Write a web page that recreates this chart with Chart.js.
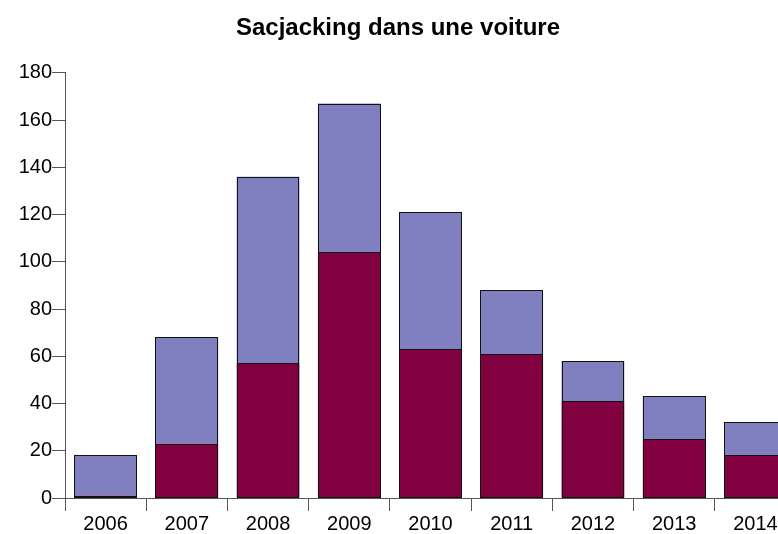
<!DOCTYPE html>
<html>
<head>
<meta charset="utf-8">
<script src="https://cdn.jsdelivr.net/npm/chart.js@4/dist/chart.umd.min.js"></script>
<style>
html,body{margin:0;padding:0;background:#fff;overflow:hidden;width:778px;height:534px;}
canvas{display:block;}
</style>
</head>
<body>
<canvas id="c" width="796" height="534" style="width:796px;height:534px"></canvas>
<script>
const categories = ['2006','2007','2008','2009','2010','2011','2012','2013','2014'];
const seriesLower = [1, 23, 57, 104, 63, 61, 41, 25, 18];
const seriesUpper = [17, 45, 79, 63, 58, 27, 17, 18, 14];
const yTicks = [0, 20, 40, 60, 80, 100, 120, 140, 160, 180];

const FONT = "'Liberation Sans', Arial, sans-serif";
const axisColor = '#555';

// crisp 1px outlines around every bar, taken from the library's bar elements
const crispOutline = {
  id: 'crispOutline',
  afterDatasetsDraw(chart) {
    const ctx = chart.ctx;
    ctx.save();
    ctx.strokeStyle = '#111';
    ctx.lineWidth = 1;
    chart.data.datasets.forEach((ds, i) => {
      const meta = chart.getDatasetMeta(i);
      meta.data.forEach(el => {
        const p = el.getProps(['x', 'y', 'base', 'width'], true);
        const l = Math.round(p.x - p.width / 2) + 0.5;
        const r = Math.round(p.x + p.width / 2) - 0.5;
        const t = Math.round(Math.min(p.y, p.base)) + 0.5;
        const b = Math.round(Math.max(p.y, p.base)) + (i === 0 ? -0.5 : 0.5);
        ctx.strokeRect(l, t, r - l, Math.max(b - t, 1));
      });
    });
    ctx.restore();
  }
};

new Chart(document.getElementById('c'), {
  type: 'bar',
  data: {
    labels: categories,
    datasets: [
      {label: 'A', data: seriesLower, backgroundColor: '#800040', borderWidth: 0,
       categoryPercentage: 1, barPercentage: 0.772},
      {label: 'B', data: seriesUpper, backgroundColor: '#8080c0', borderWidth: 0,
       categoryPercentage: 1, barPercentage: 0.772}
    ]
  },
  plugins: [crispOutline],
  options: {
    responsive: false,
    animation: false,
    devicePixelRatio: 1,
    layout: {padding: {left: 0, right: 0, top: 0, bottom: 0}},
    plugins: {
      legend: {display: false},
      tooltip: {enabled: false},
      title: {display: true, text: 'Sacjacking dans une voiture', color: '#000',
              font: {family: FONT, size: 24, weight: 'bold'}, padding: {top: 14, bottom: 30}}
    },
    scales: {
      x: {
        stacked: true,
        grid: {display: true, drawOnChartArea: false, drawTicks: true, tickLength: 13, color: axisColor, offset: true},
        border: {display: true, color: axisColor},
        ticks: {color: '#000', font: {family: FONT, size: 20}, padding: 1, maxRotation: 0, autoSkip: false},
        afterFit: s => { s.height = 36; }
      },
      y: {
        stacked: true,
        min: 0, max: 180,
        afterBuildTicks: s => { s.ticks = yTicks.map(v => ({value: v})); },
        grid: {display: true, drawOnChartArea: false, drawTicks: true, tickLength: 13, color: axisColor},
        border: {display: true, color: axisColor},
        ticks: {color: '#000', font: {family: FONT, size: 20}, padding: 0},
        afterFit: s => { s.width = 65; }
      }
    }
  }
});
</script>
</body>
</html>
